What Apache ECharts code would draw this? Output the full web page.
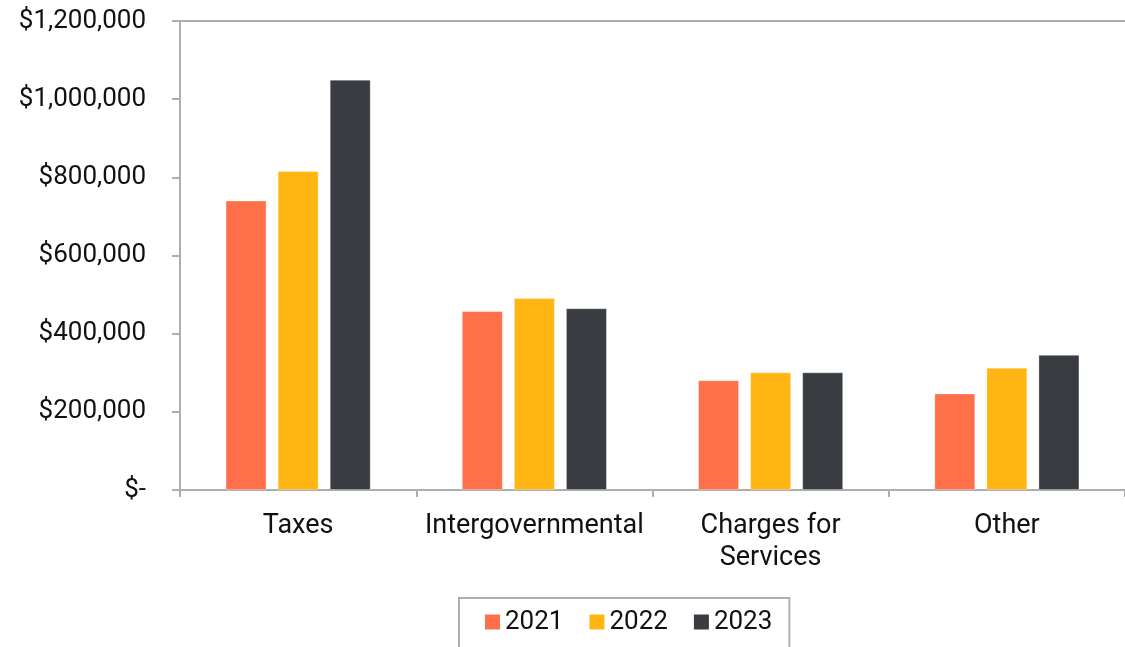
<!DOCTYPE html>
<html>
<head>
<meta charset="utf-8">
<title>Revenue by Source</title>
<script src="https://cdn.jsdelivr.net/npm/echarts@6/dist/echarts.min.js"></script>
<style>
  html, body { margin: 0; padding: 0; background: #ffffff; }
  #chart { width: 1125px; height: 647px; }
</style>
</head>
<body>
<div id="chart"></div>
<script>
// Revenue sources, three fiscal years
const categories = ['Taxes', 'Intergovernmental', 'Charges for\nServices', 'Other'];
const years = ['2021', '2022', '2023'];
const values2021 = [741000, 458000, 281000, 247000];
const values2022 = [816000, 491000, 301000, 313000];
const values2023 = [1050000, 465000, 301000, 346000];
const yTickLabels = ['$-', '$200,000', '$400,000', '$600,000', '$800,000', '$1,000,000', '$1,200,000'];
const yStep = 200000;

const colors = ['#FF704A', '#FFB612', '#393D41'];
const axisGrey = '#AEAEAE';
const font = 'Roboto';

const chart = echarts.init(document.getElementById('chart'), null, { renderer: 'canvas' });

const seriesData = [values2021, values2022, values2023];

chart.setOption({
  animation: false,
  textStyle: { fontFamily: font },
  grid: { left: 180, right: -2, top: 21, bottom: 157, containLabel: false },
  legend: {
    data: years,
    left: 459,
    top: 598,
    padding: [11, 17, 40, 26],
    itemWidth: 15,
    itemHeight: 15,
    itemGap: 26,
    icon: 'rect',
    borderColor: axisGrey,
    borderWidth: 2,
    itemStyle: { borderWidth: 0 },
    textStyle: { fontFamily: font, fontSize: 26, color: '#111', lineHeight: 26, padding: [0, 0, 0, 0] }
  },
  xAxis: [
    {
      type: 'category',
      data: categories,
      position: 'bottom',
      axisLine: { lineStyle: { color: axisGrey, width: 2 } },
      axisTick: { show: true, length: 7, lineStyle: { color: axisGrey, width: 2 } },
      axisLabel: { fontFamily: font, fontSize: 27, color: '#111', lineHeight: 32, margin: 20, interval: 0 }
    },
    {
      type: 'category',
      data: categories,
      position: 'top',
      axisLine: { show: true, lineStyle: { color: axisGrey, width: 2 } },
      axisTick: { show: false },
      axisLabel: { show: false }
    }
  ],
  yAxis: {
    type: 'value',
    min: 0,
    max: 1200000,
    interval: yStep,
    axisLine: { show: true, lineStyle: { color: axisGrey, width: 2 } },
    axisTick: { show: true, length: 8, lineStyle: { color: axisGrey, width: 2 } },
    splitLine: { show: false },
    axisLabel: {
      fontFamily: font,
      fontSize: 26,
      color: '#111',
      margin: 34,
      formatter: function (v) { return yTickLabels[Math.round(v / yStep)]; }
    }
  },
  series: years.map(function (y, i) {
    return {
      name: y,
      type: 'bar',
      data: seriesData[i],
      barWidth: 41,
      barGap: '27%',
      itemStyle: { color: colors[i], borderColor: 'rgba(255,255,255,0.3)', borderWidth: 1 }
    };
  })
});
</script>
</body>
</html>
